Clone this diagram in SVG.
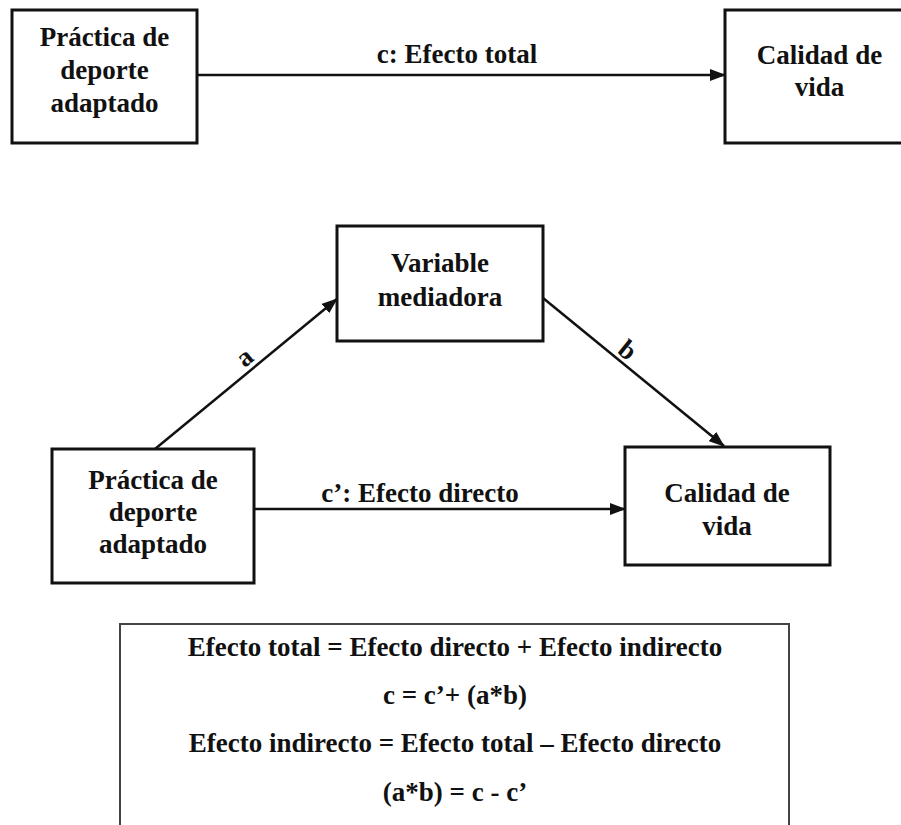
<svg xmlns="http://www.w3.org/2000/svg" width="901" height="825" viewBox="0 0 901 825">
<style>
  .box { fill: #fff; stroke: #111; stroke-width: 3; }
  .lbl { font-weight: bold; font-size: 27px; fill: #111; text-anchor: middle; }
  .conn { stroke: #111; stroke-width: 2.5; fill: none; marker-end: url(#arr); }
</style>
<defs>
  <marker id="arr" markerUnits="userSpaceOnUse" markerWidth="16" markerHeight="12" refX="15" refY="6" orient="auto">
    <path d="M0,0 L16,6 L0,12 z" fill="#111"/>
  </marker>
</defs>
<rect width="901" height="825" fill="#fff"/>

<g font-family="'Liberation Serif', 'DejaVu Serif', serif">
<g id="connectors">
  <line class="conn" x1="197" y1="75" x2="725" y2="75"/>
  <line class="conn" x1="155" y1="449" x2="337" y2="299"/>
  <line class="conn" x1="543" y1="298" x2="724" y2="446"/>
  <line class="conn" x1="254" y1="509" x2="625" y2="509"/>
  <text class="lbl" x="457" y="63">c: Efecto total</text>
  <text class="lbl" transform="translate(250,364) rotate(-39.5)" x="0" y="0">a</text>
  <text class="lbl" transform="translate(622,357) rotate(39)" x="0" y="0">b</text>
  <text class="lbl" x="420" y="502">c’: Efecto directo</text>
</g>

<g id="n-practica-top">
  <rect class="box" x="12" y="10" width="185" height="133"/>
  <text class="lbl" x="104.5" y="46">Práctica de</text>
  <text class="lbl" x="104.5" y="79">deporte</text>
  <text class="lbl" x="104.5" y="112">adaptado</text>
</g>

<g id="n-calidad-top">
  <rect class="box" x="725" y="10" width="190" height="133"/>
  <text class="lbl" x="819.5" y="64">Calidad de</text>
  <text class="lbl" x="819.5" y="96">vida</text>
</g>

<g id="n-mediadora">
  <rect class="box" x="337" y="226" width="206" height="115"/>
  <text class="lbl" x="440" y="272">Variable</text>
  <text class="lbl" x="440" y="306">mediadora</text>
</g>

<g id="n-practica-bottom">
  <rect class="box" x="52" y="449" width="202" height="134"/>
  <text class="lbl" x="153" y="489">Práctica de</text>
  <text class="lbl" x="153" y="521">deporte</text>
  <text class="lbl" x="153" y="553">adaptado</text>
</g>

<g id="n-calidad-bottom">
  <rect class="box" x="625" y="447" width="205" height="118"/>
  <text class="lbl" x="727" y="502">Calidad de</text>
  <text class="lbl" x="727" y="535">vida</text>
</g>

<g id="n-formulas">
  <path d="M120,830 L120,624 L789,624 L789,830" fill="none" stroke="#444" stroke-width="2"/>
  <text class="lbl" x="455" y="656">Efecto total = Efecto directo + Efecto indirecto</text>
  <text class="lbl" x="455" y="704">c = c’+ (a*b)</text>
  <text class="lbl" x="455" y="752">Efecto indirecto = Efecto total – Efecto directo</text>
  <text class="lbl" x="455" y="801">(a*b) = c - c’</text>
</g>
</g>
</svg>
